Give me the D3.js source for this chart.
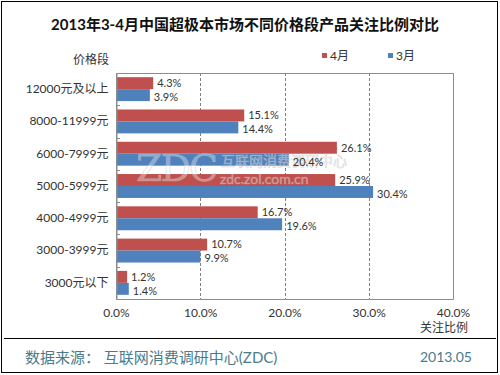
<!DOCTYPE html>
<html>
<head>
<meta charset="utf-8">
<script src="https://d3js.org/d3.v7.min.js"></script>
<style>
  body { margin: 0; background: #fff; }
  svg { font-family: "Lato", "Noto Sans CJK SC", sans-serif; }
</style>
</head>
<body>
<script>
// 价格段
const categories = ["12000元及以上", "8000-11999元", "6000-7999元", "5000-5999元", "4000-4999元", "3000-3999元", "3000元以下"];
const seriesNames = ["4月", "3月"];
const aprValues = [4.3, 15.1, 26.1, 25.9, 16.7, 10.7, 1.2];
const marValues = [3.9, 14.4, 20.4, 30.4, 19.6, 9.9, 1.4];
const xTicks = [0, 10, 20, 30, 40];
const colors = ["#C0504D", "#4F81BD"];

const W = 500, H = 375;
const pLeft = 116, pRight = 453, pTop = 73, pBottom = 299;

const svg = d3.select("body").append("svg")
  .attr("width", W).attr("height", H);

svg.append("rect").attr("x", 1.5).attr("y", 1.5).attr("width", 496).attr("height", 371)
  .attr("fill", "#fff").attr("stroke", "#000").attr("stroke-width", 1);

// title
svg.append("text").attr("x", 245).attr("y", 30).attr("text-anchor", "middle")
  .attr("font-size", 15).attr("font-weight", "bold").attr("fill", "#111")
  .text("2013年3-4月中国超极本市场不同价格段产品关注比例对比");

let x = d3.scaleLinear().domain([0, 40]).range([pLeft, pRight]);
let y = d3.scaleBand().domain(categories).range([pTop, pBottom]).padding(0);
let ySub = d3.scaleBand().domain(seriesNames).range([0, y.bandwidth()])
  .paddingInner(0).paddingOuter(0.35);

// gridlines
svg.append("g").selectAll("line").data(xTicks.filter(d => d > 0 && d < 40)).join("line")
  .attr("x1", d => Math.round(x(d)) + 0.5).attr("x2", d => Math.round(x(d)) + 0.5)
  .attr("y1", pTop).attr("y2", pBottom)
  .attr("stroke", "#808080").attr("stroke-dasharray", "3,2");

// plot frame
svg.append("path")
  .attr("d", `M${pLeft + 0.5},${pTop + 0.5}H${pRight + 0.5}V${pBottom + 0.5}H${pLeft + 0.5}Z`)
  .attr("fill", "none").attr("stroke", "#8c8c8c");

// bars
const rows = categories.map((c, i) => ({ cat: c, vals: [aprValues[i], marValues[i]] }));
const grp = svg.append("g").selectAll("g").data(rows).join("g")
  .attr("transform", d => `translate(0,${y(d.cat)})`);

grp.selectAll("rect").data(d => d.vals.map((v, j) => ({ v, s: seriesNames[j], j }))).join("rect")
  .attr("x", pLeft + 1).attr("y", d => ySub(d.s))
  .attr("width", d => x(d.v) - pLeft).attr("height", ySub.bandwidth())
  .attr("fill", d => colors[d.j]);

// watermark (over bars, under labels)
const wm = svg.append("g").attr("fill", "#fff").attr("fill-opacity", 0.35)
  .attr("stroke", "#bbb").attr("stroke-opacity", 0.6).attr("stroke-width", 0.6);
wm.append("text").attr("x", 136).attr("y", 181).attr("font-size", 38)
  .attr("font-family", "DejaVu Serif").attr("textLength", 82).text("ZDC");
wm.append("text").attr("x", 221).attr("y", 166).attr("font-size", 14).text("互联网消费调研中心");
wm.append("text").attr("x", 220).attr("y", 184).attr("font-size", 14).text("zdc.zol.com.cn");

// value labels
const lbl = svg.append("g").selectAll("g").data(rows).join("g")
  .attr("transform", d => `translate(0,${y(d.cat)})`);
lbl.selectAll("text").data(d => d.vals.map((v, j) => ({ v, s: seriesNames[j], j }))).join("text")
  .attr("x", d => x(d.v) + 5).attr("y", d => ySub(d.s) + ySub.bandwidth() / 2 + (d.j ? 2 : 0))
  .attr("dy", "0.35em").attr("font-size", 11).attr("fill", "#333")
  .text(d => d.v.toFixed(1) + "%");

// y axis
const yAxis = svg.append("g").attr("transform", `translate(${pLeft + 0.5},0)`)
  .call(d3.axisLeft(y).tickSize(0).tickPadding(8));
yAxis.select(".domain").attr("stroke", "#8c8c8c");
yAxis.selectAll("text").attr("font-size", 12).attr("fill", "#333")
  .attr("font-family", "Lato, 'Noto Sans CJK SC', sans-serif");
svg.append("g").selectAll("line").data(d3.range(1, categories.length)).join("line")
  .attr("x1", pLeft).attr("x2", pLeft + 4)
  .attr("y1", i => Math.round(pTop + i * y.step()) + 0.5).attr("y2", i => Math.round(pTop + i * y.step()) + 0.5)
  .attr("stroke", "#8c8c8c");

// x axis
const xAxis = svg.append("g").attr("transform", `translate(0,${pBottom})`)
  .call(d3.axisBottom(x).tickValues(xTicks).tickSize(0).tickPadding(9).tickFormat(d => d.toFixed(1) + "%"));
xAxis.select(".domain").remove();
xAxis.selectAll("text").attr("font-size", 12).attr("fill", "#333")
  .attr("font-family", "Lato, sans-serif");

svg.append("text").attr("x", 468).attr("y", 332).attr("text-anchor", "end")
  .attr("font-size", 12).attr("fill", "#333").text("关注比例");

svg.append("text").attr("x", 73).attr("y", 64)
  .attr("font-size", 12).attr("fill", "#333").text("价格段");

// legend
const lg = svg.append("g").selectAll("g").data(seriesNames).join("g")
  .attr("transform", (d, i) => `translate(${322 + i * 66},53)`);
lg.append("rect").attr("width", 5).attr("height", 5).attr("fill", (d, i) => colors[i]);
lg.append("text").attr("x", 8).attr("y", 3).attr("dy", "0.35em")
  .attr("font-size", 12).attr("fill", "#333").text(d => d);

// footer
svg.append("line").attr("x1", 4).attr("x2", 496).attr("y1", 338.5).attr("y2", 338.5)
  .attr("stroke", "#000");
svg.append("text").attr("x", 25).attr("y", 363)
  .attr("font-size", 15).attr("fill", "#4a7b8c").attr("xml:space", "preserve")
  .text("数据来源： 互联网消费调研中心(ZDC)");
svg.append("text").attr("x", 472).attr("y", 362).attr("text-anchor", "end")
  .attr("font-size", 14).attr("fill", "#4a7b8c").text("2013.05");
</script>
</body>
</html>
